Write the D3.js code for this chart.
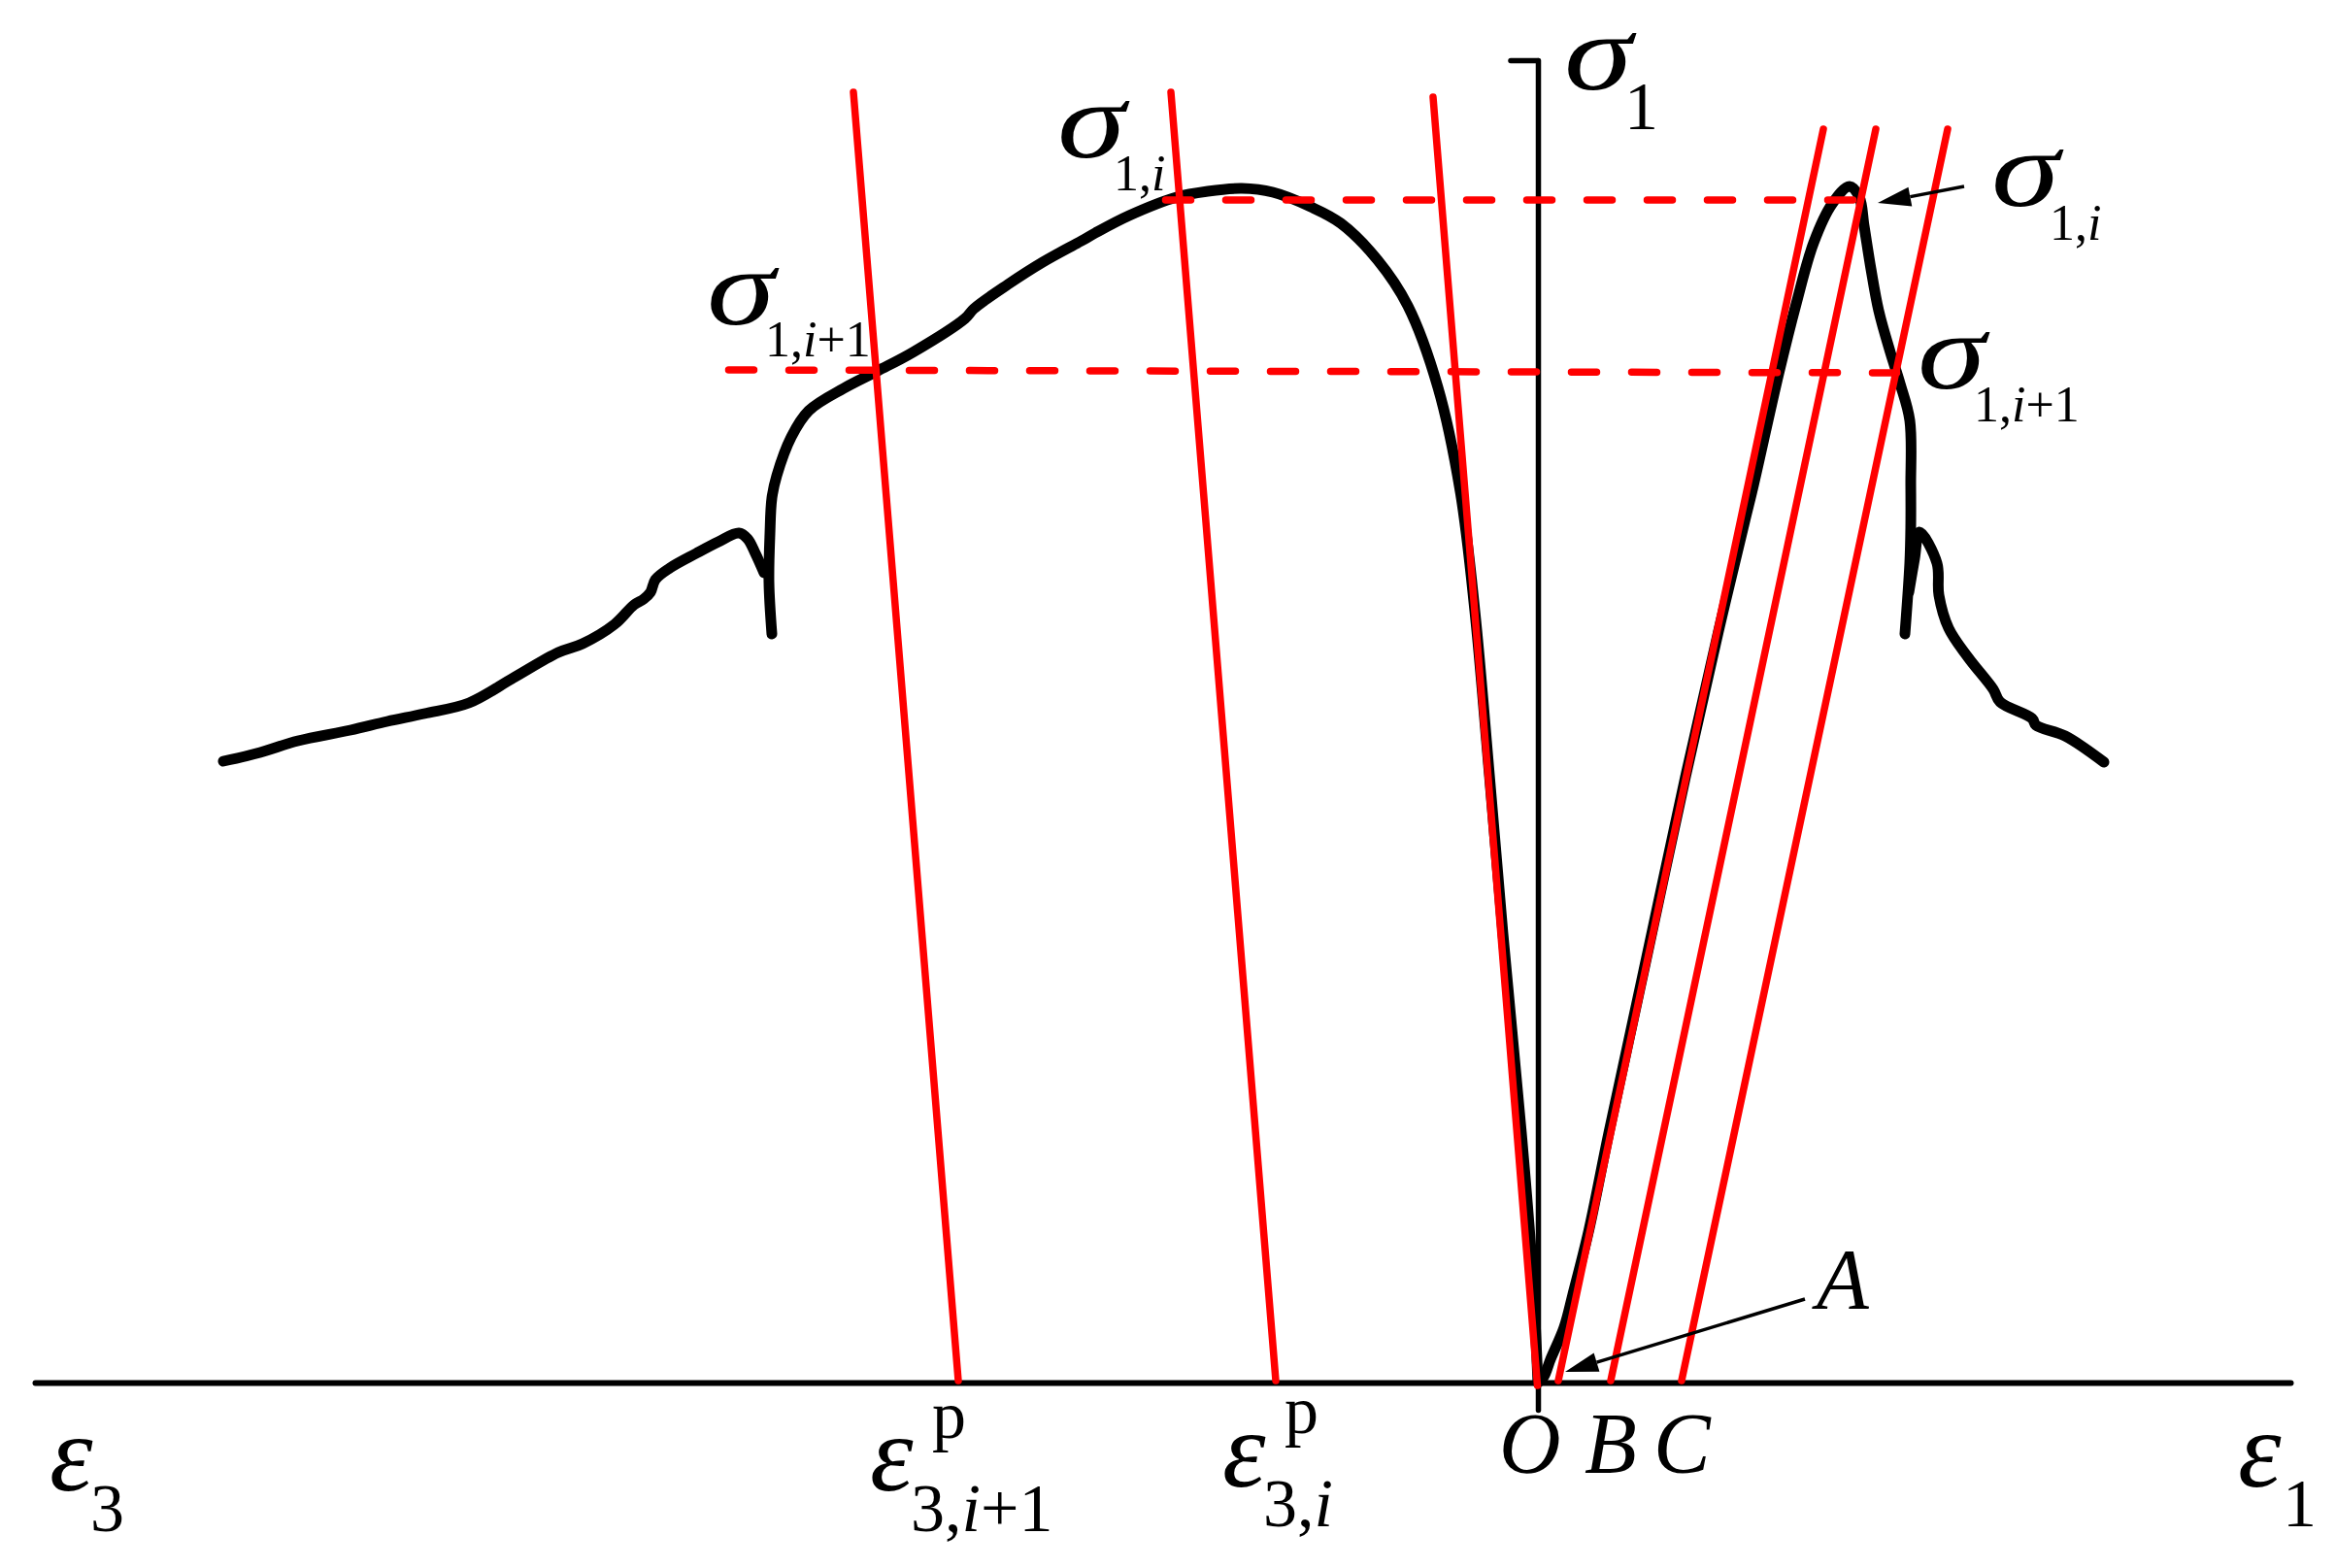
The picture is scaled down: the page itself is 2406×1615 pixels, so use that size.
<!DOCTYPE html>
<html lang="en">

<head>
    <meta charset="utf-8">
    <title>Stress strain curve</title>
    <script src="https://d3js.org/d3.v7.min.js"></script>
    <style>
        body { margin: 0; background: #fff; }
        svg { display: block; }
        text { font-family: "Liberation Serif", serif; fill: #000; }
        .curve { fill: none; stroke: #000; stroke-width: 11; stroke-linecap: round; stroke-linejoin: round; }
        .unload { stroke: #f00; stroke-width: 7.5; stroke-linecap: round; }
        .level { stroke: #f00; stroke-width: 7.5; stroke-linecap: round; stroke-dasharray: 26 36; }
        .axis path, .axis line { stroke: #000; stroke-linecap: round; fill: none; }
    </style>
</head>

<body>
    <svg id="chart"></svg>

    <script type="text/javascript">
        // values, [strain, stress]
        var axialRise = [[.02, 0], [.08, .06], [.15, .24], [.29, .57], [.38, .91], [.545, 1.57], [.75, 2.57], [1.11, 4.24],
            [1.54, 6.24], [1.88, 7.74], [2.15, 8.87], [2.24, 9.24], [2.50, 10.39], [2.68, 11.11],
            [2.86, 11.74], [3.05, 12.14], [3.23, 12.32], [3.33, 12.21], [3.38, 11.91], [3.45, 11.47], [3.53, 11.04],
            [3.65, 10.61], [3.75, 10.29], [3.85, 9.91], [3.86, 9.24], [3.86, 8.81], [3.85, 8.44], [3.80, 7.71]];
        var axialTail = [[3.84, 8.14], [3.90, 8.49], [3.95, 8.76], [4.13, 8.44], [4.15, 8.11], [4.25, 7.77], [4.45, 7.47],
            [4.71, 7.14], [4.78, 7.01], [5.11, 6.84], [5.15, 6.77], [5.45, 6.66], [5.85, 6.39]];
        var lateralRise = [[.02, 0], [-.04, 1.20], [-.15, 2.57], [-.34, 4.62], [-.48, 6.26], [-.63, 7.95], [-.78, 9.18], [-1.01, 10.25],
            [-1.32, 11.09], [-1.63, 11.56], [-2.01, 11.94], [-2.32, 12.11], [-2.71, 12.26], [-3.03, 12.30], [-3.38, 12.27],
            [-3.70, 12.21], [-4.19, 12.02], [-4.54, 11.84], [-4.68, 11.76], [-5.08, 11.54], [-5.44, 11.31], [-5.79, 11.06],
            [-5.88, 10.96], [-6.42, 10.61], [-6.78, 10.42], [-7.13, 10.24], [-7.49, 10.01], [-7.67, 9.74], [-7.82, 9.34],
            [-7.87, 9.11], [-7.89, 8.74], [-7.90, 8.24], [-7.87, 7.71]];
        var lateralTail = [[-13.52, 6.40], [-13.14, 6.49], [-12.75, 6.61], [-12.21, 6.72], [-11.83, 6.81], [-11.45, 6.89],
            [-10.99, 7.00], [-10.53, 7.26], [-10.07, 7.52], [-9.82, 7.61], [-9.49, 7.81], [-9.29, 8.01], [-9.19, 8.07],
            [-9.12, 8.14], [-9.07, 8.27], [-8.92, 8.39], [-8.65, 8.54], [-8.42, 8.66], [-8.21, 8.75], [-8.12, 8.69],
            [-8.04, 8.54], [-7.95, 8.34]];

        // red unloading lines
        var unloadLines = [
            [[.23, .02], [2.96, 12.91]],
            [[.77, .02], [3.50, 12.91]],
            [[1.50, .02], [4.24, 12.91]],
            [[-5.95, .02], [-7.03, 13.29]],
            [[-2.68, .02], [-3.76, 13.29]],
            [[.015, -.03], [-1.06, 13.24]]
        ];
        // dashed stress levels
        var stressLevels = [
            [[-3.815, 12.18], [3.265, 12.18]],
            [[-8.315, 10.43], [3.715, 10.40]]
        ];
        // leader arrows, from label to tip
        var arrows = [
            [[2.77, .86], [.30, .11]],
            [[4.41, 12.32], [3.52, 12.15]]
        ];

        var width = 2406;
        var height = 1615;
        var svg = d3.select("#chart")
            .attr("width", width)
            .attr("height", height)
            .attr("viewBox", "0 0 " + width + " " + height);

        var xScale = d3.scaleLinear().domain([-15.46, 7.77]).range([36, 2359]);
        var yScale = d3.scaleLinear().domain([0, 13.62]).range([1424, 62]);
        var yAxisScale = yScale.copy().domain([-.28, 13.62]).range([yScale(-.28), yScale(13.62)]);

        var xAxis = d3.axisBottom(xScale).tickValues([]).tickSize(0);
        var yAxis = d3.axisLeft(yAxisScale).tickValues([13.62]).tickSize(28).tickSizeOuter(0).tickFormat("");

        svg.append("g")
            .attr("class", "axis")
            .attr("transform", "translate(" + xScale(.02) + ",0)")
            .call(yAxis)
            .call(function(g) { g.selectAll("path,line").attr("stroke-width", 5.5); });

        svg.append("g")
            .attr("class", "axis")
            .attr("transform", "translate(0," + yScale(0) + ")")
            .call(xAxis)
            .call(function(g) { g.selectAll("path").attr("stroke-width", 6); });

        var curve = d3.line()
            .x(function(d) { return xScale(d[0]); })
            .y(function(d) { return yScale(d[1]); })
            .curve(d3.curveCatmullRom.alpha(0.5));

        svg.selectAll(".curve")
            .data([axialRise, axialTail, lateralRise, lateralTail])
            .enter()
            .append("path")
            .attr("class", "curve")
            .attr("d", curve);

        svg.selectAll(".unload")
            .data(unloadLines)
            .enter()
            .append("line")
            .attr("class", "unload")
            .attr("x1", function(d) { return xScale(d[0][0]); })
            .attr("y1", function(d) { return yScale(d[0][1]); })
            .attr("x2", function(d) { return xScale(d[1][0]); })
            .attr("y2", function(d) { return yScale(d[1][1]); });

        svg.selectAll(".level")
            .data(stressLevels)
            .enter()
            .append("line")
            .attr("class", "level")
            .attr("x1", function(d) { return xScale(d[0][0]); })
            .attr("y1", function(d) { return yScale(d[0][1]); })
            .attr("x2", function(d) { return xScale(d[1][0]); })
            .attr("y2", function(d) { return yScale(d[1][1]); });

        // arrow shaft plus a filled head
        var headLength = 34;
        var headHalf = 10;
        arrows.forEach(function(a) {
            var x0 = xScale(a[0][0]), y0 = yScale(a[0][1]);
            var x1 = xScale(a[1][0]), y1 = yScale(a[1][1]);
            var len = Math.hypot(x1 - x0, y1 - y0);
            var ux = (x1 - x0) / len, uy = (y1 - y0) / len;
            var bx = x1 - ux * headLength, by = y1 - uy * headLength;
            svg.append("line")
                .attr("x1", x0).attr("y1", y0).attr("x2", bx).attr("y2", by)
                .attr("stroke", "#000").attr("stroke-width", 3.5);
            svg.append("path")
                .attr("fill", "#000")
                .attr("d", "M" + x1 + "," + y1 +
                    "L" + (bx - uy * headHalf) + "," + (by + ux * headHalf) +
                    "L" + (bx + uy * headHalf) + "," + (by - ux * headHalf) + "Z");
        });

        // text: [x, baseline, size, runs, stretched width], a run is [string, italic]
        var bigSize = 113;
        var sigmaWidth = 70;
        var subLarge = 70;
        var subSmall = 52;
        var letterSize = 88;
        var labels = [
            [1611, 92, bigSize, [["σ", 1]], sigmaWidth],
            [1673, 133, subLarge, [["1", 0]]],
            [2051, 212, bigSize, [["σ", 1]], sigmaWidth],
            [2111, 247, subSmall, [["1,", 0], ["i", 1]]],
            [1975, 400, bigSize, [["σ", 1]], sigmaWidth],
            [2033, 434, subSmall, [["1,", 0], ["i", 1], ["+1", 0]]],
            [1089, 162, bigSize, [["σ", 1]], sigmaWidth],
            [1147, 196, subSmall, [["1,", 0], ["i", 1]]],
            [728, 334, bigSize, [["σ", 1]], sigmaWidth],
            [788, 367, subSmall, [["1,", 0], ["i", 1], ["+1", 0]]],
            [51, 1535, bigSize, [["ε", 1]]],
            [93, 1577, subLarge, [["3", 0]]],
            [896, 1535, bigSize, [["ε", 1]]],
            [938, 1577, subLarge, [["3,", 0], ["i", 1], ["+1", 0]]],
            [960, 1481, subLarge, [["p", 0]]],
            [1259, 1531, bigSize, [["ε", 1]]],
            [1301, 1572, subLarge, [["3,", 0], ["i", 1]]],
            [1323, 1476, subLarge, [["p", 0]]],
            [2305, 1531, bigSize, [["ε", 1]]],
            [2351, 1572, subLarge, [["1", 0]]],
            [1544, 1516, letterSize, [["O", 1]]],
            [1632, 1516, letterSize, [["B", 1]]],
            [1703, 1516, letterSize, [["C", 1]]],
            [1871, 1347, letterSize, [["A", 1]]]
        ];

        labels.forEach(function(l) {
            var t = svg.append("text")
                .attr("x", l[0])
                .attr("y", l[1])
                .attr("font-size", l[2]);
            if (l[4]) {
                t.attr("textLength", l[4]).attr("lengthAdjust", "spacingAndGlyphs");
            }
            l[3].forEach(function(run) {
                t.append("tspan")
                    .attr("font-style", run[1] ? "italic" : "normal")
                    .text(run[0]);
            });
        });
    </script>
</body>

</html>
